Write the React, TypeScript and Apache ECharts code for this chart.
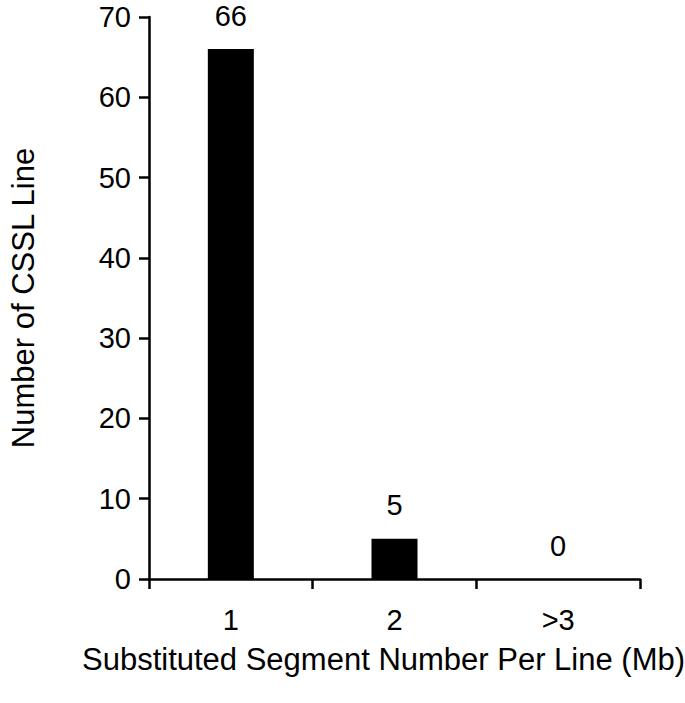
import React, { useEffect, useRef } from "react";
import * as echarts from "echarts";

const categories = ["1", "2", ">3"];
const counts = [66, 5, 0];
const yMin = 0;
const yMax = 70;
const yInterval = 10;

export default function App() {
  const ref = useRef<HTMLDivElement>(null);
  useEffect(() => {
    if (!ref.current) return;
    const chart = echarts.init(ref.current, null, { renderer: "svg" });
    const font = "'Liberation Sans', Arial, sans-serif";
    chart.setOption({
      animation: false,
      backgroundColor: "#ffffff",
      grid: { left: 138, right: 45, top: 17, bottom: 124, containLabel: false },
      xAxis: {
        type: "category",
        data: categories,
        name: "Substituted Segment Number Per Line (Mb)",
        nameLocation: "middle",
        nameGap: 65,
        nameTextStyle: { fontFamily: font, fontSize: 31, color: "#000", padding: [0, 22, 0, 0] },
        axisLine: { lineStyle: { color: "#000", width: 2.5 } },
        axisTick: { show: true, length: 10, lineStyle: { color: "#000", width: 2.5 } },
        axisLabel: { fontFamily: font, fontSize: 29, color: "#000", margin: 26 },
      },
      yAxis: {
        type: "value",
        min: yMin,
        max: yMax,
        interval: yInterval,
        name: "Number of CSSL Line",
        nameLocation: "middle",
        nameGap: 110,
        nameRotate: 90,
        nameTextStyle: { fontFamily: font, fontSize: 31, color: "#000" },
        axisLine: { show: true, lineStyle: { color: "#000", width: 2.5 } },
        axisTick: { show: true, length: 10, lineStyle: { color: "#000", width: 2.5 } },
        axisLabel: { fontFamily: font, fontSize: 29, color: "#000", margin: 18 },
        splitLine: { show: false },
      },
      series: [
        {
          type: "bar",
          data: counts,
          barWidth: 46,
          itemStyle: { color: "#000" },
          label: {
            show: true,
            position: "top",
            distance: 19,
            fontFamily: font,
            fontSize: 29,
            color: "#000",
          },
        },
      ],
    });
    return () => chart.dispose();
  }, []);
  return <div ref={ref} style={{ width: 685, height: 703, position: "absolute", left: 0, top: 0 }} />;
}
